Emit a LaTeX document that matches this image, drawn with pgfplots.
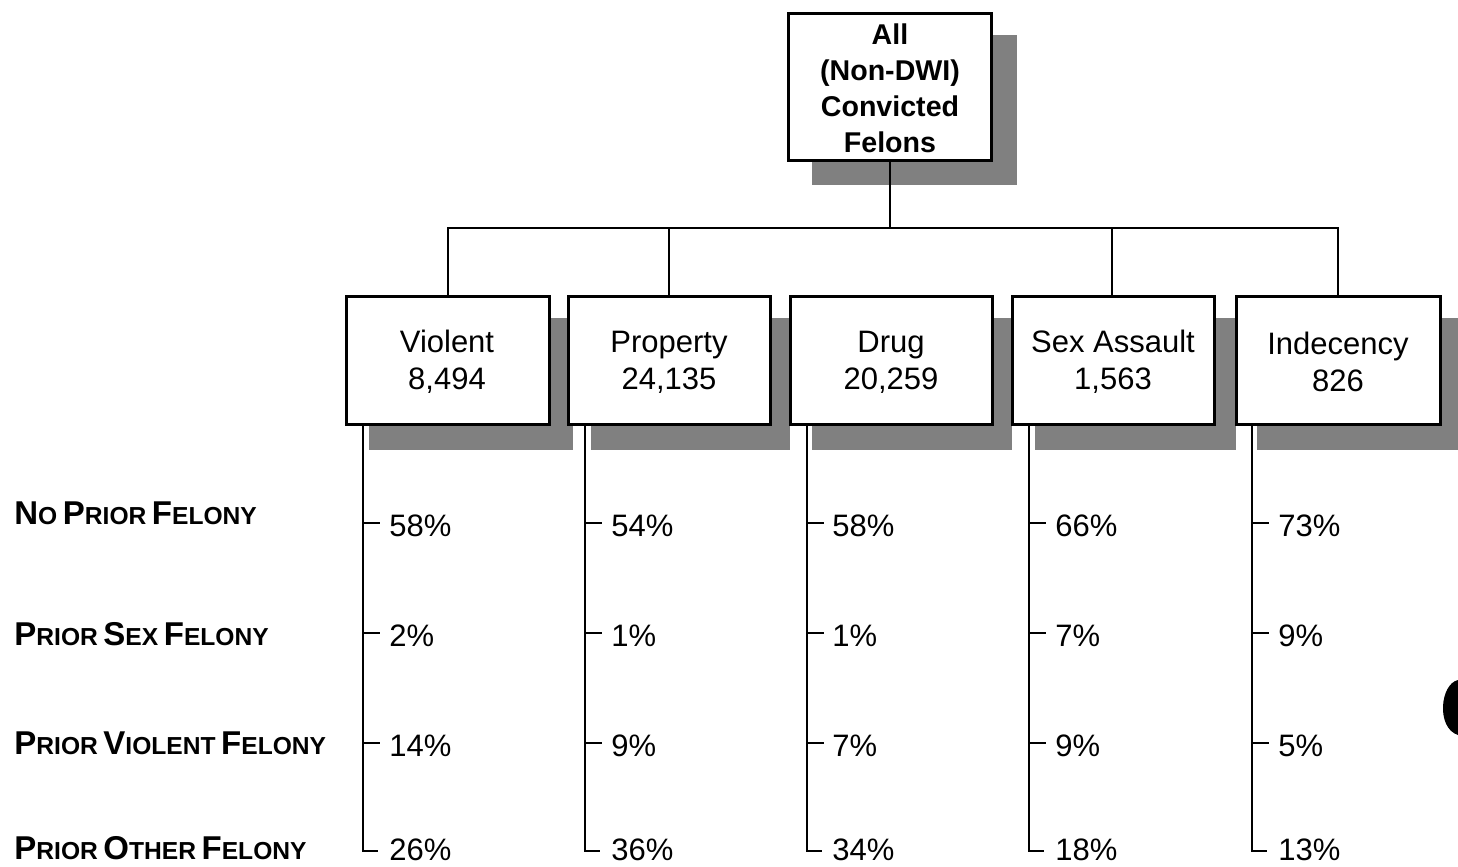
\documentclass[border=0pt]{standalone}
\usepackage{pgfplots}
\pgfplotsset{compat=1.18}
\usepackage{pgfplotstable}
\usepackage{fontspec}
\setmainfont{Liberation Sans}
\newcommand{\catfont}{\fontsize{15.5}{18.5}\selectfont}
\newcommand{\topfont}{\fontsize{14.3}{18}\selectfont\bfseries}
\newcommand{\SC}[2]{{\fontsize{16.5}{18}\selectfont #1}{\fontsize{12.3}{14}\selectfont #2}}
\definecolor{shade}{gray}{0.5}

% percentages: x (stem + offset), y, value
\pgfplotstableread{
x y p
389 526 58
389 636 2
389 746 14
389 850 26
611 526 54
611 636 1
611 746 9
611 850 36
832 526 58
832 636 1
832 746 7
832 850 34
1055 526 66
1055 636 7
1055 746 9
1055 850 18
1278 526 73
1278 636 9
1278 746 5
1278 850 13
}\pcttable

\begin{document}
\begin{tikzpicture}
\begin{axis}[
  width=729pt, height=433.5pt, scale only axis,
  xmin=0, xmax=1458, ymin=0, ymax=867,
  y dir=reverse, axis lines=none, clip=false,
]
% ---- shadows ----
\addplot[draw=none, fill=shade] coordinates {(812,35) (1017,35) (1017,185) (812,185)} --cycle;
\addplot[draw=none, fill=shade] coordinates {(369,318) (573,318) (573,450) (369,450)} --cycle;
\addplot[draw=none, fill=shade] coordinates {(591,318) (790,318) (790,450) (591,450)} --cycle;
\addplot[draw=none, fill=shade] coordinates {(812,318) (1012,318) (1012,450) (812,450)} --cycle;
\addplot[draw=none, fill=shade] coordinates {(1035,318) (1236,318) (1236,450) (1035,450)} --cycle;
\addplot[draw=none, fill=shade] coordinates {(1257,318) (1458,318) (1458,450) (1257,450)} --cycle;
\addplot[draw=none, fill=shade] coordinates {(1214,318) (1236,318) (1236,450) (1214,450)} --cycle;

% ---- connectors ----
\addplot[black, line width=1.3pt] coordinates {(890,160) (890,228)};
\addplot[black, line width=1.3pt] coordinates {(448,296) (448,228) (1338,228) (1338,296)};
\addplot[black, line width=1.3pt] coordinates {(669,228) (669,296)};
\addplot[black, line width=1.3pt] coordinates {(1112,228) (1112,296)};

% ---- boxes ----
\addplot[black, line width=1.5pt, fill=white] coordinates {(788,13) (991,13) (991,160) (788,160)} --cycle;
\addplot[black, line width=1.5pt, fill=white] coordinates {(346,296) (549,296) (549,424) (346,424)} --cycle;
\addplot[black, line width=1.5pt, fill=white] coordinates {(568,296) (770,296) (770,424) (568,424)} --cycle;
\addplot[black, line width=1.5pt, fill=white] coordinates {(790,296) (992,296) (992,424) (790,424)} --cycle;
\addplot[black, line width=1.5pt, fill=white] coordinates {(1012,296) (1214,296) (1214,424) (1012,424)} --cycle;
\addplot[black, line width=1.5pt, fill=white] coordinates {(1236,296) (1440,296) (1440,424) (1236,424)} --cycle;

% ---- stems and ticks ----
\addplot[black, line width=1.4pt] coordinates {(363,424) (363,851) (378,851)};
\addplot[black, line width=1.4pt] coordinates {(585,424) (585,851) (600,851)};
\addplot[black, line width=1.4pt] coordinates {(807,424) (807,851) (822,851)};
\addplot[black, line width=1.4pt] coordinates {(1029,424) (1029,851) (1044,851)};
\addplot[black, line width=1.4pt] coordinates {(1252,424) (1252,851) (1267,851)};
\addplot[black, line width=1.2pt] coordinates {(363,523) (380,523)};
\addplot[black, line width=1.2pt] coordinates {(363,633) (380,633)};
\addplot[black, line width=1.2pt] coordinates {(363,743) (380,743)};
\addplot[black, line width=1.2pt] coordinates {(585,523) (602,523)};
\addplot[black, line width=1.2pt] coordinates {(585,633) (602,633)};
\addplot[black, line width=1.2pt] coordinates {(585,743) (602,743)};
\addplot[black, line width=1.2pt] coordinates {(807,523) (824,523)};
\addplot[black, line width=1.2pt] coordinates {(807,633) (824,633)};
\addplot[black, line width=1.2pt] coordinates {(807,743) (824,743)};
\addplot[black, line width=1.2pt] coordinates {(1029,523) (1046,523)};
\addplot[black, line width=1.2pt] coordinates {(1029,633) (1046,633)};
\addplot[black, line width=1.2pt] coordinates {(1029,743) (1046,743)};
\addplot[black, line width=1.2pt] coordinates {(1252,523) (1269,523)};
\addplot[black, line width=1.2pt] coordinates {(1252,633) (1269,633)};
\addplot[black, line width=1.2pt] coordinates {(1252,743) (1269,743)};

% ---- percentages ----
\addplot[draw=none, mark=none, point meta=explicit symbolic,
  nodes near coords={\pgfplotspointmeta\%},
  every node near coord/.append style={anchor=west, inner sep=0pt, font=\catfont}]
  table[x=x, y=y, meta=p] {\pcttable};

% ---- box texts ----
\node[align=center, font=\topfont] at (axis cs:890,88) {All\\(Non-DWI)\\Convicted\\Felons};
\node[align=center, font=\catfont] at (axis cs:447,362) {Violent\\8,494};
\node[align=center, font=\catfont] at (axis cs:669,362) {Property\\24,135};
\node[align=center, font=\catfont] at (axis cs:891,362) {Drug\\20,259};
\node[align=center, font=\catfont] at (axis cs:1113,362) {Sex Assault\\1,563};
\node[align=center, font=\catfont] at (axis cs:1338,362) {Indecency\\826};

% ---- row labels ----
\node[anchor=base west, inner sep=0pt, font=\bfseries] at (axis cs:14,524) {\SC{N}{O} \SC{P}{RIOR} \SC{F}{ELONY}};
\node[anchor=base west, inner sep=0pt, font=\bfseries] at (axis cs:14,645) {\SC{P}{RIOR} \SC{S}{EX} \SC{F}{ELONY}};
\node[anchor=base west, inner sep=0pt, font=\bfseries] at (axis cs:14,754) {\SC{P}{RIOR} \SC{V}{IOLENT} \SC{F}{ELONY}};
\node[anchor=base west, inner sep=0pt, font=\bfseries] at (axis cs:14,859) {\SC{P}{RIOR} \SC{O}{THER} \SC{F}{ELONY}};

% scan blot at right edge
\fill[black] (axis cs:1458,680) .. controls (axis cs:1440,684) and (axis cs:1436,728) .. (axis cs:1458,735) -- cycle;
\end{axis}
\pgfresetboundingbox
\path (current axis.south west) rectangle (current axis.north east);
\end{tikzpicture}
\end{document}
